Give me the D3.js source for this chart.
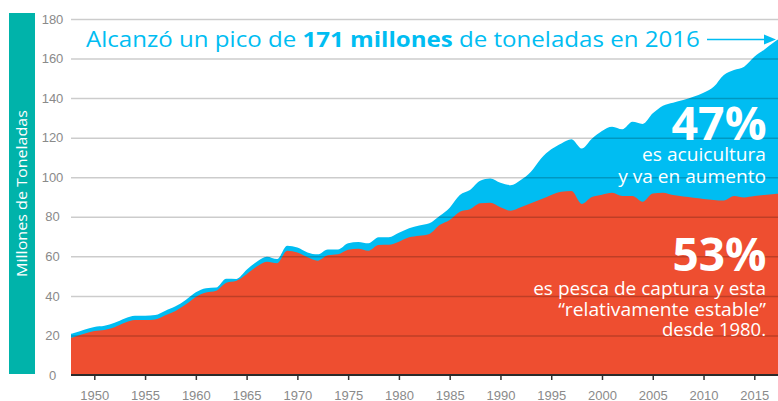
<!DOCTYPE html>
<html><head><meta charset="utf-8">
<script src="https://cdn.jsdelivr.net/npm/d3@7"></script>
<style>body{margin:0;background:#fff;} svg{display:block}</style>
</head><body><svg id="chart" width="778" height="401"></svg>
<script>
const years = [1947,1948,1949,1950,1951,1952,1953,1954,1955,1956,1957,1958,1959,1960,1961,1962,1963,1964,1965,1966,1967,1968,1969,1970,1971,1972,1973,1974,1975,1976,1977,1978,1979,1980,1981,1982,1983,1984,1985,1986,1987,1988,1989,1990,1991,1992,1993,1994,1995,1996,1997,1998,1999,2000,2001,2002,2003,2004,2005,2006,2007,2008,2009,2010,2011,2012,2013,2014,2015,2016,2017,2018];
const capture = [18.0,19.2,20.8,22.2,22.8,24.2,26.4,27.8,27.8,28.1,30.2,32.4,35.6,39.5,41.7,42.6,46.7,47.7,51.0,54.8,57.3,56.5,62.8,62.0,59.5,57.8,60.5,61.0,63.3,63.8,62.8,65.7,65.8,67.4,69.6,70.4,71.3,75.8,78.4,82.6,83.8,86.8,87.1,84.8,83.1,84.8,86.8,88.8,91.0,92.7,93.0,86.5,90.0,91.2,92.2,90.5,90.5,87.6,91.8,92.2,91.0,90.2,89.6,89.0,88.5,88.2,90.5,89.8,90.5,91.0,91.5,91.8];
const total = [20.0,21.2,22.9,24.3,24.9,26.4,28.6,30.0,30.0,30.3,32.5,34.7,37.9,41.8,43.9,44.2,48.7,48.6,53.2,57.3,59.8,58.6,65.3,64.5,62.0,61.0,63.5,63.5,66.6,67.3,66.6,69.6,69.6,71.9,74.2,75.6,76.7,80.4,84.6,91.0,93.5,98.2,99.4,97.2,96.0,98.6,102.8,109.5,114.1,117.1,119.2,114.5,119.5,123.4,125.5,124.2,128.0,126.9,132.3,136.2,137.7,139.0,140.7,142.7,145.7,151.7,154.2,155.9,160.9,164.6,168.5,171.5];
const yTicks = [0,20,40,60,80,100,120,140,160,180];
const xTicks = [1950,1955,1960,1965,1970,1975,1980,1985,1990,1995,2000,2005,2010,2015];
const axisTitle = "Millones de Toneladas";
const titleParts = [["Alcanzó un pico de ", false], ["171 millones", true], [" de toneladas en 2016", false]];

const FONT = "'Open Sans', 'Noto Sans', sans-serif";
const C_RED = "#ee4e30", C_BLUE = "#00bdf2", C_TEAL = "#00b3aa", C_GRAY = "#8a8a8a";

const svg = d3.select("#chart");
const left = 71, right = 778;
const x = d3.scaleLinear().domain([1950, 2015]).range([94.3, 754.3]);
const y = d3.scaleLinear().domain([0, 180]).range([375, 19]);

// left teal bar with rotated title
svg.append("rect").attr("x", 9).attr("y", 13).attr("width", 26).attr("height", 361).attr("fill", C_TEAL);

function fit(sel, target) {
  const w = sel.node().getComputedTextLength();
  return w > 0 ? target / w : 1;
}

const at = svg.append("text").attr("text-anchor", "middle")
  .style("font-family", FONT).style("font-size", "15px").attr("fill", "#fff").text(axisTitle);
let s = fit(at, 167);
at.attr("transform", `translate(27,193.5) rotate(-90) scale(${s},1)`);

// areas
svg.append("defs").append("clipPath").attr("id", "plot")
  .append("rect").attr("x", left).attr("y", 0).attr("width", right - left).attr("height", 375);
const g = svg.append("g").attr("clip-path", "url(#plot)");
const dTot = years.map((yr, i) => ({ yr, v: total[i] }));
const dCap = years.map((yr, i) => ({ yr, v: capture[i] }));
const area = d3.area().x(d => x(d.yr)).y0(y(0)).y1(d => y(d.v)).curve(d3.curveMonotoneX);
g.append("path").datum(dTot).attr("d", area).attr("fill", C_BLUE);
g.append("path").datum(dCap).attr("d", area).attr("fill", C_RED);

// gridlines over areas
const grid = svg.append("g").attr("transform", `translate(${left},0)`)
  .call(d3.axisRight(y).tickValues(yTicks.filter(v => v > 0)).tickSize(right - left).tickFormat(""));
grid.select(".domain").remove();
grid.selectAll("line").attr("stroke", "rgba(0,0,0,0.2)").attr("stroke-width", 1.5);

// y labels
const yl = svg.append("g").attr("transform", "translate(52.5,0)")
  .call(d3.axisLeft(y).tickValues(yTicks).tickSize(0).tickPadding(0));
yl.select(".domain").remove();
yl.selectAll("text").attr("text-anchor", "middle").attr("x", 0).attr("fill", C_GRAY)
  .style("font-family", "'Liberation Sans', Arial, sans-serif").style("font-size", "13px");

// x axis
const xa = svg.append("g").attr("transform", "translate(0,375)")
  .call(d3.axisBottom(x).tickValues(xTicks).tickSize(5).tickPadding(11).tickFormat(d3.format("d")));
xa.select(".domain").remove();
xa.selectAll("line").attr("stroke", "#333").attr("stroke-width", 1.5);
xa.selectAll("text").attr("fill", C_GRAY)
  .style("font-family", "'Liberation Sans', Arial, sans-serif").style("font-size", "13px");
svg.append("line").attr("x1", left).attr("x2", right).attr("y1", y(0)).attr("y2", y(0))
  .attr("stroke", "#2b2b2b").attr("stroke-width", 2);

// title
const tt = svg.append("text").style("font-family", FONT).style("font-size", "22px").attr("fill", "#00bdf2");
titleParts.forEach(([t, b]) => tt.append("tspan").style("font-weight", b ? 700 : 400).text(t));
s = fit(tt, 614);
tt.attr("transform", `translate(86,46.7) scale(${s},1)`);

// arrow
svg.append("line").attr("x1", 707).attr("x2", 766).attr("y1", 39.5).attr("y2", 39.5)
  .attr("stroke", "#00bdf2").attr("stroke-width", 1.6);
svg.append("path").attr("d", "M776,39.5 L764,34.5 L764,44.5 Z").attr("fill", "#00bdf2");

// annotations
function label(txt, xr, yb, size, weight, width) {
  const t = svg.append("text").attr("text-anchor", "end").attr("fill", "#fff")
    .style("font-family", FONT).style("font-size", size + "px").style("font-weight", weight).text(txt);
  const k = fit(t, width);
  t.attr("transform", `translate(${xr},${yb}) scale(${k},1)`);
}
label("47%", 766.5, 140, 46, 700, 95);
label("es acuicultura", 766, 160.7, 18.5, 400, 124);
label("y va en aumento", 766, 182.7, 18.5, 400, 148);
label("53%", 766.5, 270.7, 46, 700, 94);
label("es pesca de captura y esta", 766, 295, 18.5, 400, 233);
label("“relativamente estable”", 766, 315.5, 18.5, 400, 208);
label("desde 1980.", 766, 336, 18.5, 400, 104);
</script>
</body></html>
